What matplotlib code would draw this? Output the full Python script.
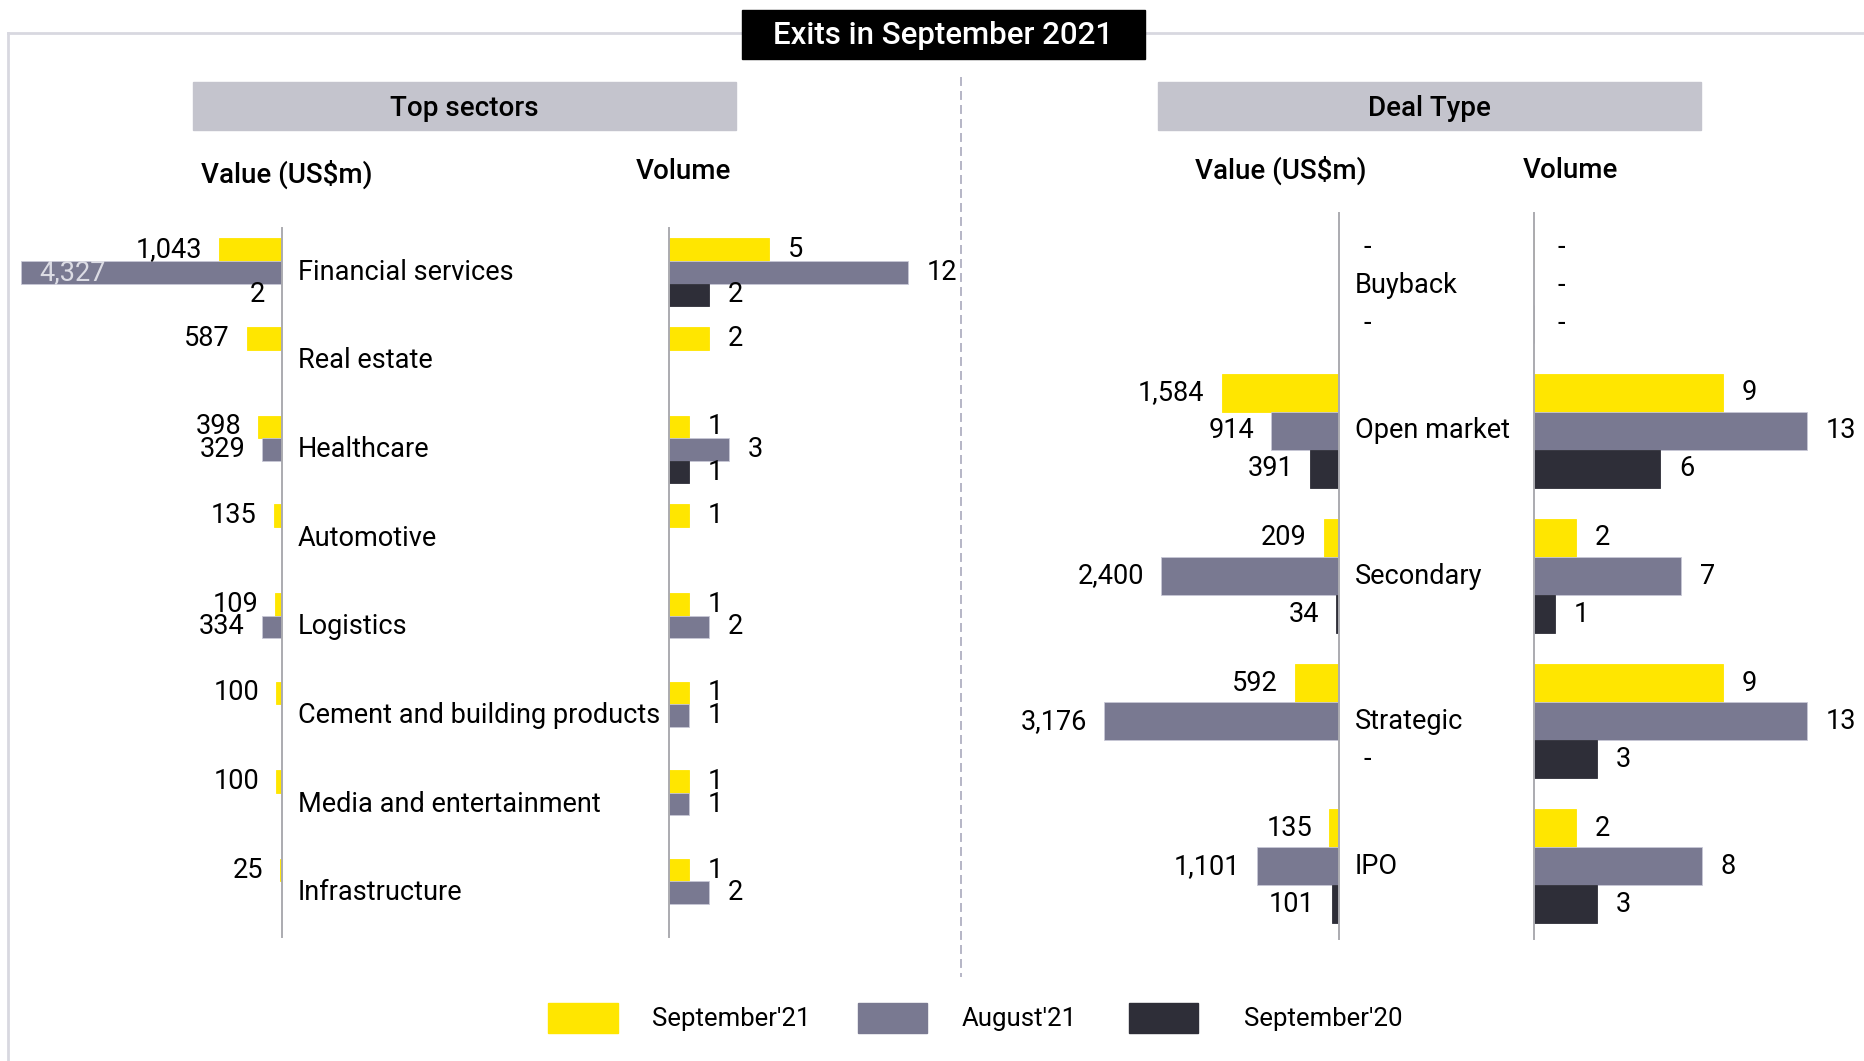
import numpy as np
import matplotlib.pyplot as plt
from matplotlib.patches import Rectangle
from matplotlib.lines import Line2D
from matplotlib import font_manager

# --- data -------------------------------------------------------------
sectors = ["Financial services", "Real estate", "Healthcare", "Automotive",
           "Logistics", "Cement and building products",
           "Media and entertainment", "Infrastructure"]
sec_val_sep21 = [1043, 587, 398, 135, 109, 100, 100, 25]
sec_val_aug21 = [4327, None, 329, None, 334, None, None, None]
sec_val_sep20 = [2, None, None, None, None, None, None, None]
sec_vol_sep21 = [5, 2, 1, 1, 1, 1, 1, 1]
sec_vol_aug21 = [12, None, 3, None, 2, 1, 1, 2]
sec_vol_sep20 = [2, None, 1, None, None, None, None, None]

deal_types = ["Buyback", "Open market", "Secondary", "Strategic", "IPO"]
deal_val_sep21 = [0, 1584, 209, 592, 135]
deal_val_aug21 = [0, 914, 2400, 3176, 1101]
deal_val_sep20 = [0, 391, 34, 0, 101]
deal_vol_sep21 = [0, 9, 2, 9, 2]
deal_vol_aug21 = [0, 13, 7, 13, 8]
deal_vol_sep20 = [0, 6, 1, 3, 3]

series_names = ["September'21", "August'21", "September'20"]
colors = ["#FFE600", "#797991", "#2E2E38"]

# --- layout helpers (pixel based) ------------------------------------
W, H = 1864, 1061
PT = 72 / 100.0  # points per pixel at dpi 100

names = {f.name for f in font_manager.fontManager.ttflist}
FONT = "Roboto" if "Roboto" in names else "DejaVu Sans"
plt.rcParams["font.family"] = [FONT, "DejaVu Sans"]

fig = plt.figure(figsize=(W / 100, H / 100), dpi=100)
fig.patch.set_facecolor("white")


def frac(x0, y0, x1, y1):
    return [x0 / W, 1 - y1 / H, (x1 - x0) / W, (y1 - y0) / H]


def as_arr(vals):
    return np.array([np.nan if v is None else v for v in vals], dtype=float)


CAT = 19.5    # category names
NUM = 19.5    # data labels


def panel(px, cats, series, ppu, bar_h, side, fmt, show_cats=False):
    x0, y0, x1, y1 = px
    ax = fig.add_axes(frac(x0, y0, x1, y1))
    n = len(cats)
    xmax = (x1 - x0) / ppu
    ax.set_ylim(n - 0.5, -0.5)
    if side == "left":
        ax.set_xlim(xmax, 0)
    else:
        ax.set_xlim(0, xmax)
    ax.set_xticks([])
    ax.set_yticks([])
    ax.patch.set_alpha(0)
    for s in ax.spines.values():
        s.set_visible(False)
    sp = ax.spines["right" if side == "left" else "left"]
    sp.set_visible(True)
    sp.set_color("#ABABB0")
    sp.set_linewidth(1.4)

    pos = np.arange(n)
    for k, (vals, col) in enumerate(zip(series, colors)):
        vals = as_arr(vals)
        y = pos + (k - 1) * bar_h
        ax.barh(y, vals, height=bar_h, color=col,
                edgecolor="#C8C8D6" if k == 1 else col, linewidth=0.6)
        for i, v in enumerate(vals):
            if np.isnan(v):
                continue
            if v == 0:
                # zero values get a dash on the inner side of the axis
                if side == "left" and k == 1:
                    continue
                ax.annotate("-", xy=(0, y[i]), xytext=(24 * PT, 0),
                            textcoords="offset points", ha="left", va="center",
                            fontsize=NUM, annotation_clip=False)
                continue
            txt = fmt(v)
            if side == "left":
                # label sits outside the bar end unless it would leave the figure
                room = x1 - v * ppu - 17
                if room < 80:
                    ax.annotate(txt, xy=(v, y[i]), xytext=(18 * PT, 0),
                                textcoords="offset points", ha="left", va="center",
                                fontsize=NUM, color="#DCDCE4",
                                annotation_clip=False)
                else:
                    ax.annotate(txt, xy=(v, y[i]), xytext=(-17 * PT, 0),
                                textcoords="offset points", ha="right", va="center",
                                fontsize=NUM, annotation_clip=False)
            else:
                ax.annotate(txt, xy=(v, y[i]), xytext=(19 * PT, 0),
                            textcoords="offset points", ha="left", va="center",
                            fontsize=NUM, annotation_clip=False)

    if show_cats:
        for i, c in enumerate(cats):
            ax.annotate(c, xy=(0, i), xytext=(16 * PT, 0), textcoords="offset points",
                        ha="left", va="center", fontsize=CAT,
                        annotation_clip=False)
    return ax


val_fmt = lambda v: f"{v:,.0f}"
vol_fmt = lambda v: f"{int(v)}"

# Top sectors
panel((10, 228, 282, 937), sectors, [sec_val_sep21, sec_val_aug21, sec_val_sep20],
      0.0603, 0.255, "left", val_fmt, show_cats=True)
panel((669, 228, 940, 937), sectors, [sec_vol_sep21, sec_vol_aug21, sec_vol_sep20],
      19.9, 0.255, "right", vol_fmt)

# Deal type
panel((1090, 213, 1339, 939), deal_types, [deal_val_sep21, deal_val_aug21, deal_val_sep20],
      0.0741, 0.262, "left", val_fmt, show_cats=True)
panel((1534, 213, 1850, 939), deal_types, [deal_vol_sep21, deal_vol_aug21, deal_vol_sep20],
      21.0, 0.262, "right", vol_fmt)

# --- decorations ---------------------------------------------------------
def fx(x):
    return x / W


def fy(y):
    return 1 - y / H


# outer frame (top and left edges)
fig.add_artist(Line2D([fx(8), fx(W)], [fy(33), fy(33)], color="#D8D8E0", lw=2.0))
fig.add_artist(Line2D([fx(8), fx(8)], [fy(33), fy(H)], color="#D8D8E0", lw=2.0))

# dashed divider between the two halves
div = Line2D([fx(961), fx(961)], [fy(77), fy(977)], color="#B6B6C6", lw=1.4)
div.set_dashes((4.6, 2.6))
fig.add_artist(div)

# title
fig.add_artist(Rectangle((fx(742), fy(59)), (1145 - 742) / W, 49 / H,
                         transform=fig.transFigure, color="black", zorder=3))
fig.text(fx(943.5), fy(36), "Exits in September 2021", color="white",
         fontsize=22.5, fontweight="medium", ha="center", va="center", zorder=4)

# section headers
for (a, b), title in [((193, 736), "Top sectors"), ((1158, 1701), "Deal Type")]:
    fig.add_artist(Rectangle((fx(a), fy(130)), (b - a) / W, 48 / H,
                             transform=fig.transFigure, color="#C4C4CD"))
    fig.text(fx((a + b) / 2), fy(109), title, fontsize=20, fontweight="medium",
             ha="center", va="center")

for x, y, t in [(287, 174, "Value (US$m)"), (683, 172, "Volume"),
                (1281, 170, "Value (US$m)"), (1570, 170, "Volume")]:
    fig.text(fx(x), fy(y), t, fontsize=20, fontweight="medium", ha="center", va="center")

# legend
for (a, b, tx), name, col in zip([(548, 618, 652), (858, 927, 962), (1129, 1198, 1244)],
                                 series_names, colors):
    fig.add_artist(Rectangle((fx(a), fy(1033)), (b - a) / W, 30 / H,
                             transform=fig.transFigure, color=col))
    fig.text(fx(tx), fy(1019), name, fontsize=18.5, ha="left", va="center")

fig.savefig("out.png", dpi=100)
